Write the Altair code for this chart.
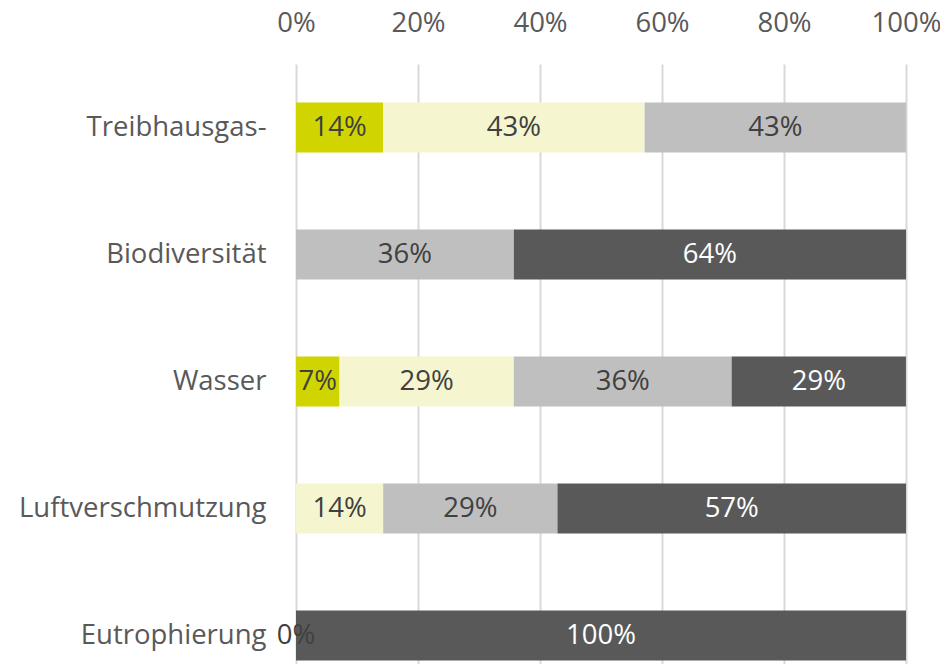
import altair as alt
import pandas as pd

categories = ["Treibhausgas-", "Biodiversität", "Wasser", "Luftverschmutzung", "Eutrophierung"]
series = ["s1", "s2", "s3", "s4"]
s1 = [14.29, 0.0, 7.14, 0.0, 0.0]
s2 = [42.86, 0.0, 28.57, 14.29, 0.0]
s3 = [42.86, 35.71, 35.71, 28.57, 0.0]
s4 = [0.0, 64.29, 28.57, 57.14, 100.0]
# labels shown in the picture ("" = no label)
l1 = ["14%", "", "7%", "", "0%"]
l2 = ["43%", "", "29%", "14%", ""]
l3 = ["43%", "36%", "36%", "29%", ""]
l4 = ["", "64%", "29%", "57%", "100%"]
colors = ["#d0d400", "#f5f5cf", "#bfbfbf", "#595959"]
text_colors = ["#404040", "#404040", "#404040", "#ffffff"]

rows = []
for si, (vals, labs) in enumerate(zip([s1, s2, s3, s4], [l1, l2, l3, l4])):
    for ci, cat in enumerate(categories):
        rows.append({"cat": cat, "series": series[si], "order": si,
                     "value": vals[ci], "label": labs[ci], "tcolor": text_colors[si]})
df = pd.DataFrame(rows)

FONT = "Open Sans"
FS = 27.5
base = alt.Chart(df).transform_stack(
    stack="value", groupby=["cat"], as_=["start", "end"],
    sort=[alt.SortField("order", order="ascending")]
).transform_calculate(
    start_p="datum.start/100", end_p="datum.end/100",
    mid="(datum.start + datum.end)/200"
)

y_enc = alt.Y("cat:N", sort=categories, title=None,
              scale=alt.Scale(paddingInner=0.6, paddingOuter=0.3),
              axis=alt.Axis(domain=False, ticks=False, labelFontSize=FS, labelFont=FONT,
                            labelColor="#595959", labelPadding=30, labelLimit=0,
                            labelFontWeight="normal"))

bars = base.mark_bar(size=50).encode(
    x=alt.X("start_p:Q", scale=alt.Scale(domain=[0, 1]), title=None,
            axis=alt.Axis(orient="top", format="%", values=[0, 0.2, 0.4, 0.6, 0.8, 1.0],
                          domain=False, ticks=False, tickSize=0, labelPadding=41,
                          labelBaseline="middle",
                          labelFontSize=FS, labelFont=FONT, labelColor="#595959",
                          gridColor="#d9d9d9", gridWidth=2, labelFlush=False)),
    x2="end_p:Q",
    y=y_enc,
    color=alt.Color("series:N", scale=alt.Scale(domain=series, range=colors), legend=None),
)

texts = base.transform_filter("datum.label != ''").mark_text(
    fontSize=FS, font=FONT, align="center", baseline="middle"
).encode(
    x=alt.X("mid:Q"),
    y=alt.Y("cat:N", sort=categories),
    text="label:N",
    color=alt.Color("tcolor:N", scale=None),
)

chart = alt.layer(bars, texts).properties(
    width=610, height=635,
    autosize=alt.AutoSizeParams(type="none"),
    padding={"left": 288, "top": 56, "right": 34, "bottom": 0},
).configure_view(stroke=None)

chart.save("out.html", embed_options={"renderer": "svg", "actions": False})
